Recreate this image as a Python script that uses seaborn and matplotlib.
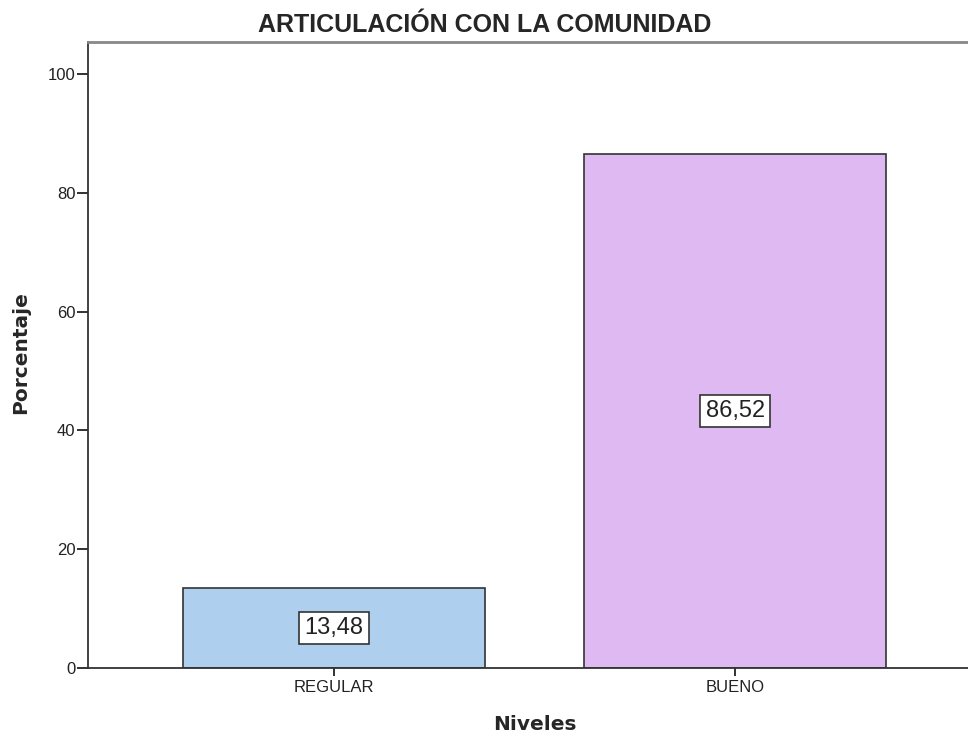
import matplotlib
matplotlib.use("Agg")
import matplotlib.pyplot as plt
import seaborn as sns
import pandas as pd

categories = ["REGULAR", "BUENO"]
values = [13.48, 86.52]
labels = ["13,48", "86,52"]
colors = ["#aed0ee", "#dfbaf2"]

sns.set_style("white")
plt.rcParams['font.family'] = ['Liberation Sans', 'DejaVu Sans']

df = pd.DataFrame({"Niveles": categories, "Porcentaje": values})

fig = plt.figure(figsize=(9.68, 7.35), dpi=100)
ax = fig.add_axes([88/968, (735-668)/735, (981-88)/968, (668-42)/735])

sns.barplot(data=df, x="Niveles", y="Porcentaje", hue="Niveles", palette=colors,
            width=0.753, edgecolor="#333333", linewidth=1.2, legend=False, ax=ax, saturation=1)

ax.set_xlim(-0.613, 1.613)
ax.set_ylim(0, 105.4)
ax.set_yticks([0, 20, 40, 60, 80, 100])
ax.tick_params(axis='y', direction='out', length=8, width=1.3, color='#222222',
               labelsize=12, labelcolor='#222222', left=True, pad=1)
ax.tick_params(axis='x', direction='out', length=6, width=1.3, color='#222222',
               labelsize=12, labelcolor='#222222', bottom=True, pad=3)

for side in ["left", "bottom"]:
    ax.spines[side].set_color("#333333")
    ax.spines[side].set_linewidth(1.3)
ax.spines["top"].set_color("#888888")
ax.spines["top"].set_linewidth(2)
ax.spines["right"].set_visible(False)

for i, (v, lab) in enumerate(zip(values, labels)):
    ax.text(i, v / 2, lab, ha='center', va='center', fontsize=17, color='#222222',
            bbox=dict(boxstyle='square,pad=0.22', facecolor='white', edgecolor='#333333', linewidth=1.2))

ax.set_xlabel("")
ax.set_ylabel("")
fig.text(535/968, 1 - 724/735, "Niveles", ha='center', va='center',
         fontsize=14.5, fontweight='bold', family='DejaVu Sans')
fig.text(21/968, 1 - 353/735, "Porcentaje", ha='center', va='center', rotation=90,
         fontsize=14.5, fontweight='bold', family='DejaVu Sans')
fig.text(485/968, 1 - 25/735, "ARTICULACIÓN CON LA COMUNIDAD", ha='center', va='center',
         fontsize=18, fontweight='bold')

fig.savefig("out.png", dpi=100)
